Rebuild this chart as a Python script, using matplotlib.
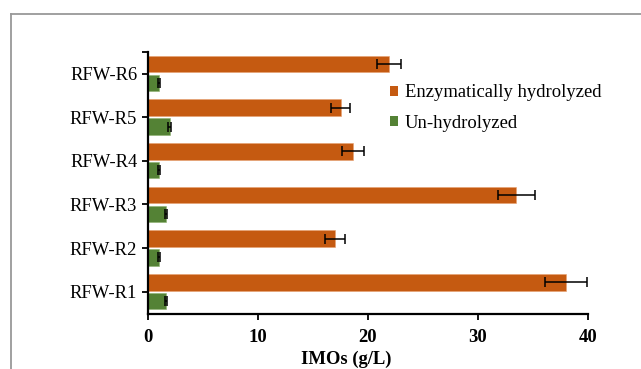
import matplotlib
matplotlib.use("Agg")
import matplotlib.pyplot as plt
from matplotlib.patches import Patch
from matplotlib.lines import Line2D
from matplotlib.font_manager import FontProperties
import numpy as np

categories = ["RFW-R1", "RFW-R2", "RFW-R3", "RFW-R4", "RFW-R5", "RFW-R6"]
enzymatic = [38.0, 17.0, 33.5, 18.6, 17.5, 21.9]
enzymatic_err = [1.9, 0.9, 1.7, 1.0, 0.9, 1.1]
unhydrolyzed = [1.6, 0.95, 1.6, 1.0, 1.95, 0.95]
unhydrolyzed_err = [0.12, 0.08, 0.1, 0.08, 0.12, 0.08]
x_ticks = [0, 10, 20, 30, 40]
series_names = ["Enzymatically hydrolyzed", "Un-hydrolyzed"]

orange = "#C55A11"
green = "#548235"
FONT = "Liberation Serif"
plt.rcParams["font.family"] = [FONT, "DejaVu Serif"]

fig = plt.figure(figsize=(6.41, 3.69), dpi=100)
ax = fig.add_axes([148.3 / 641, 1 - 313.5 / 369, (587.7 - 148.3) / 641, (313.5 - 51.7) / 369])

y = np.arange(len(categories))
h = 0.38
off = 0.215
err_kw = dict(ecolor="black", elinewidth=1.1, capsize=3.5, capthick=1.1)
ax.barh(y + off, enzymatic, height=h, color=orange, edgecolor="#E8A070", linewidth=0.4,
        xerr=enzymatic_err, error_kw=err_kw, label=series_names[0])
ax.barh(y - off, unhydrolyzed, height=h, color=green, edgecolor="#8DB070", linewidth=0.4,
        xerr=unhydrolyzed_err, error_kw=err_kw, label=series_names[1])

ax.set_xlim(0, 40)
ax.set_ylim(-0.5, 5.5)
ax.set_xticks(x_ticks)
ax.set_yticks(y)
ax.set_yticklabels(categories, fontfamily=FONT, fontsize=13.4)
ax.set_xticklabels([str(t) for t in x_ticks], fontfamily=FONT, fontsize=13.4, fontweight="bold")
ax.set_yticks([5.5], minor=True)
ax.tick_params(axis="y", which="both", direction="out", length=4, width=1.3, pad=4)
ax.tick_params(axis="x", direction="out", length=4, width=1.3, pad=7)
for s in ["top", "right"]:
    ax.spines[s].set_visible(False)
for s in ["left", "bottom"]:
    ax.spines[s].set_linewidth(1.6)
ax.set_xlabel("IMOs (g/L)", fontfamily=FONT, fontsize=13.4, fontweight="bold", labelpad=2)
ax.xaxis.set_label_coords(0.451, -0.143)

handles = [Patch(facecolor=orange, edgecolor="none"), Patch(facecolor=green, edgecolor="none")]
leg = ax.legend(handles, series_names, loc="upper left", bbox_to_anchor=(0.55, 0.875),
                frameon=False, prop=FontProperties(family=FONT, size=13.4),
                handlelength=0.45, handleheight=0.45, handletextpad=0.35, labelspacing=0.72,
                borderaxespad=0, borderpad=0)

# outer gray frame
fig.add_artist(Line2D([11 / 641, 1.0], [1 - 13.5 / 369, 1 - 13.5 / 369], transform=fig.transFigure,
                      color="#999999", linewidth=1.3))
fig.add_artist(Line2D([11 / 641, 11 / 641], [0, 1 - 13.5 / 369], transform=fig.transFigure,
                      color="#999999", linewidth=1.3))

fig.savefig("out.png", dpi=100)
